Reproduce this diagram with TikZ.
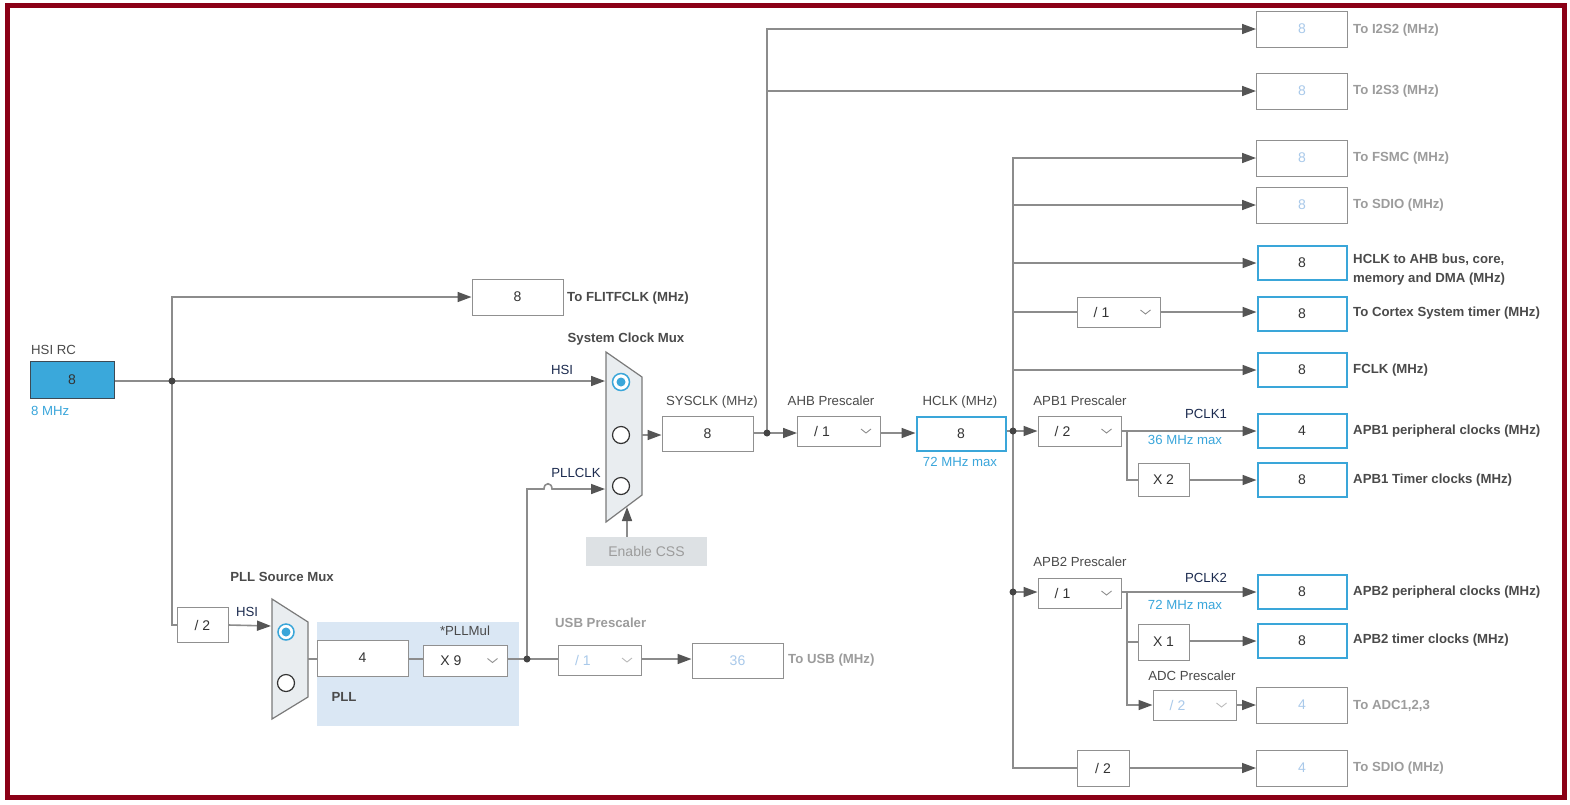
\documentclass[tikz,border=0pt]{standalone}
\usepackage{fontspec}
\setmainfont{Liberation Sans}
\usetikzlibrary{arrows.meta,calc}
\definecolor{framered}{RGB}{139,0,22}
\definecolor{linegray}{HTML}{8C8C8C}
\definecolor{arrowgray}{HTML}{555555}
\definecolor{boxgray}{HTML}{909090}
\definecolor{bluebd}{HTML}{3AA6D9}
\definecolor{hsifill}{HTML}{3AA8DB}
\definecolor{hsibd}{HTML}{3C4A55}
\definecolor{txt}{HTML}{333333}
\definecolor{lbl}{HTML}{4A4A4A}
\definecolor{dis}{HTML}{9C9C9C}
\definecolor{disval}{HTML}{A9C9EA}
\definecolor{navy}{HTML}{1C2B4F}
\definecolor{bluet}{HTML}{3AA6DB}
\definecolor{pllfill}{HTML}{DAE7F4}
\definecolor{muxfill}{HTML}{E9EDF0}
\definecolor{muxbd}{HTML}{7A7A7A}
\definecolor{cssfill}{HTML}{DDE1E4}
\definecolor{dotgray}{HTML}{444444}
\newcommand\ddchev[2]{\draw[draw=#2, line width=0.9pt] ($(#1.east)+(-20,-2)$) -- ++(5,4) -- ++(5,-4);}
\begin{document}
\begin{tikzpicture}[x=1pt,y=-1pt,
  font=\fontsize{13.2}{15}\selectfont,
  box/.style={draw=boxgray, fill=white, line width=1pt, inner sep=0pt, minimum width=91pt, minimum height=36pt, text=txt, font=\fontsize{14}{16}\selectfont},
  bbox/.style={box, draw=bluebd, line width=2pt},
  dbox/.style={box, text=disval},
  ddbox/.style={box, minimum width=83pt, minimum height=30pt},
  conn/.style={draw=linegray, line width=1.6pt},
  arr/.style={conn, -{Triangle[length=14pt,width=10pt,color=arrowgray]}},
  jdot/.style={circle, fill=dotgray, inner sep=0pt, minimum size=7pt},
  lab/.style={font=\fontsize{13.2}{15}\selectfont\bfseries, text=lbl, anchor=west, inner sep=0pt},
  dlab/.style={lab, text=dis},
  plain/.style={text=lbl, inner sep=0pt},
  sig/.style={text=navy, inner sep=0pt},
  mux/.style={fill=muxfill, draw=muxbd, line width=1.2pt},
  radioon/.style={draw=bluebd, line width=1.5pt, fill=white},
  radiooff/.style={draw=txt, line width=1.2pt, fill=white}
]
\useasboundingbox (0,0) rectangle (1570,804);
\fill[white] (0,0) rectangle (1570,804);
\draw[line width=5pt, framered] (7.5,5.5) rectangle (1564.5,797.5);

% PLL area
\fill[pllfill] (317,622) rectangle (519,726);

% muxes
\draw[mux] (272,599) -- (308,622) -- (308,697) -- (272,719) -- cycle;
\draw[radioon] (286,632) circle[radius=8pt];
\fill[bluebd] (286,632) circle[radius=4.5pt];
\draw[radiooff] (286,683) circle[radius=8.5pt];

\draw[mux] (606,352) -- (642,377) -- (642,495) -- (606,522) -- cycle;
\draw[radioon] (621,382) circle[radius=8.5pt];
\fill[bluebd] (621,382) circle[radius=4.5pt];
\draw[radiooff] (621,435) circle[radius=8.5pt];
\draw[radiooff] (621,486) circle[radius=8.5pt];

\coordinate (pmin) at (271,626);
\coordinate (pmout) at (308,659);
\coordinate (smin1) at (605,381);
\coordinate (smin3) at (605,489);
\coordinate (smout) at (642,435);
\coordinate (smbot) at (627,507);

% junctions
\coordinate (j1) at (172,381);
\coordinate (j2) at (527,659);
\coordinate (j3) at (767,433);
\coordinate (j4) at (1013,431);
\coordinate (j5) at (1013,592);
\coordinate (b1) at (1127,431);
\coordinate (b2) at (1127,593);

% ---------- left part
\node[box, fill=hsifill, draw=hsibd, minimum width=84pt, minimum height=37pt] (hsi) at (72,380) {8};
\node[plain, anchor=west] (hsilab) at (31,350) {HSI RC};
\node[plain, anchor=west, text=bluet] (hsimhz) at (31,411) {8 MHz};

\node[box] (fl) at (517.5,297) {8};
\node[lab] (fllab) at (567,298) {To FLITFCLK (MHz)};

\node[box, minimum width=51pt, minimum height=35pt] (div2) at (202.5,625) {/ 2};
\node[sig] (hsi2) at (247,612) {HSI};
\node[lab, anchor=center] (pllmuxlab) at (282,577) {PLL Source Mux};

\node[box] (pll4) at (362.5,658) {4};
\node[box, minimum width=84pt, minimum height=31pt] (mul) at (465,660.5) {X 9\hspace*{28pt}};
\ddchev{mul}{boxgray}
\node[plain] (mullab) at (465,631) {*PLLMul};
\node[lab, anchor=center] (plllab) at (344,697) {PLL};

\node[ddbox, text=disval] (usbp) at (600,660) {/ 1\hspace*{34pt}};
\ddchev{usbp}{boxgray!60}
\node[dlab] (usbplab) at (555,623) {USB Prescaler};
\node[dbox, minimum height=35pt] (usb) at (737.5,660.5) {36};
\node[dlab] (usblab) at (788,660) {To USB (MHz)};

% ---------- system clock mux
\node[lab, anchor=center] (smuxlab) at (626,339) {System Clock Mux};
\node[sig] (hsi1) at (562,370) {HSI};
\node[sig] (pllclk) at (576,473) {PLLCLK};
\node[fill=cssfill, text=dis, minimum width=121pt, minimum height=29pt, inner sep=0pt, font=\fontsize{14}{16}\selectfont] (css) at (646.5,551.5) {Enable CSS};

\node[box, minimum height=35pt] (sys) at (707.5,433.5) {8};
\node[plain] (syslab) at (712,402) {SYSCLK (MHz)};

\node[ddbox] (ahb) at (839,431) {/ 1\hspace*{34pt}};
\ddchev{ahb}{boxgray}
\node[plain] (ahblab) at (831,401) {AHB Prescaler};

\node[bbox, minimum width=89pt, minimum height=34pt] (hclk) at (961,433.5) {8};
\node[plain] (hclklab) at (960,402) {HCLK (MHz)};
\node[inner sep=0pt, text=bluet] (hclkmax) at (960,462) {72 MHz max};

% ---------- right column
\node[dbox] (i2s2) at (1302,29) {8};
\node[dlab] at (1353,30) {To I2S2 (MHz)};
\node[dbox] (i2s3) at (1302,91) {8};
\node[dlab] at (1353,91) {To I2S3 (MHz)};
\node[dbox] (fsmc) at (1302,158) {8};
\node[dlab] at (1353,158) {To FSMC (MHz)};
\node[dbox] (sdio1) at (1302,205) {8};
\node[dlab] at (1353,205) {To SDIO (MHz)};

\node[bbox, minimum width=89pt, minimum height=34pt] (hahb) at (1302,263) {8};
\begin{scope}
\clip (1345,240) rectangle (1560,284);
\node[lab, align=left, font=\fontsize{13.2}{19}\selectfont\bfseries] at (1353,270) {HCLK to AHB bus, core,\\memory and DMA (MHz)};
\end{scope}

\node[ddbox] (div1c) at (1118.5,312) {/ 1\hspace*{34pt}};
\ddchev{div1c}{boxgray}
\node[bbox, minimum width=89pt, minimum height=34pt] (cortex) at (1302,314) {8};
\node[lab] at (1353,313) {To Cortex System timer (MHz)};

\node[bbox, minimum width=89pt, minimum height=34pt] (fclk) at (1302,370) {8};
\node[lab] at (1353,370) {FCLK (MHz)};

\node[ddbox] (apb1) at (1079.5,431) {/ 2\hspace*{34pt}};
\ddchev{apb1}{boxgray}
\node[plain] at (1080,401) {APB1 Prescaler};
\node[sig] at (1206,414) {PCLK1};
\node[inner sep=0pt, text=bluet] at (1185,440) {36 MHz max};
\node[bbox, minimum width=89pt, minimum height=34pt] (apb1p) at (1302,431) {4};
\node[lab] at (1353,431) {APB1 peripheral clocks (MHz)};
\node[box, minimum width=51pt, minimum height=33pt] (x2) at (1163.5,480) {X 2};
\node[bbox, minimum width=89pt, minimum height=34pt] (apb1t) at (1302,480) {8};
\node[lab] at (1353,480) {APB1 Timer clocks (MHz)};

\node[ddbox] (apb2) at (1079.5,593) {/ 1\hspace*{34pt}};
\ddchev{apb2}{boxgray}
\node[plain] at (1080,562) {APB2 Prescaler};
\node[sig] at (1206,578) {PCLK2};
\node[inner sep=0pt, text=bluet] at (1185,605) {72 MHz max};
\node[bbox, minimum width=89pt, minimum height=34pt] (apb2p) at (1302,592) {8};
\node[lab] at (1353,592) {APB2 peripheral clocks (MHz)};
\node[box, minimum width=51pt, minimum height=36pt] (x1) at (1163.5,642) {X 1};
\node[bbox, minimum width=89pt, minimum height=34pt] (apb2t) at (1302,641) {8};
\node[lab] at (1353,640) {APB2 timer clocks (MHz)};

\node[plain] at (1192,676) {ADC Prescaler};
\node[ddbox, text=disval] (adcp) at (1194.5,705) {/ 2\hspace*{34pt}};
\ddchev{adcp}{boxgray!60}
\node[dbox] (adc) at (1302,705) {4};
\node[dlab] at (1353,706) {To ADC1,2,3};

\node[box, minimum width=52pt, minimum height=36pt] (div2s) at (1103,768) {/ 2};
\node[dbox] (sdio2) at (1302,768) {4};
\node[dlab] at (1353,768) {To SDIO (MHz)};

% ---------- connectors
\draw[conn] (hsi.east |- j1) -- (j1);
\draw[arr] (j1) -- (smin1);
\draw[arr] (j1) |- (fl.west);
\draw[conn] (j1) |- (div2.west);
\draw[arr] (div2.east) -- (pmin);
\draw[conn] (pmout) -- (pll4.west |- pmout);
\draw[conn] (pll4.east |- pmout) -- (mul.west |- pmout);
\draw[conn] (mul.east |- j2) -- (j2);
\draw[conn] (j2) -- (usbp.west |- j2);
\draw[arr] (usbp.east |- j2) -- (usb.west |- j2);
\draw[arr] (j2) -- (527,489) -- (544,489) .. controls (544,482) and (552,482) .. (552,489) -- (smin3);
\draw[arr] (css.north -| smbot) -- (smbot);
\draw[arr] (smout) -- (sys.west |- smout);
\draw[conn] (sys.east |- j3) -- (j3);
\draw[arr] (j3) -- (ahb.west |- j3);
\draw[arr] (j3) |- (i2s2.west);
\draw[arr] (j3) |- (i2s3.west);
\draw[arr] (ahb.east |- j3) -- (hclk.west |- j3);
\draw[conn] (hclk.east |- j4) -- (j4);
\draw[arr] (j4) |- (fsmc.west);
\draw[arr] (j4) |- (sdio1.west);
\draw[arr] (j4) |- (hahb.west);
\draw[conn] (j4) |- (div1c.west);
\draw[arr] (div1c.east) -- (cortex.west |- div1c);
\draw[arr] (j4) |- (fclk.west);
\draw[arr] (j4) -- (apb1.west);
\draw[arr] (apb1.east) -- (apb1p.west |- apb1);
\draw[conn] (b1) |- (x2.west);
\draw[arr] (x2.east) -- (apb1t.west);
\draw[conn] (j4) -- (j5);
\draw[arr] (j5) -- (apb2.west |- j5);
\draw[arr] (apb2.east |- j5) -- (apb2p.west);
\draw[conn] (b2) |- (x1.west);
\draw[arr] (x1.east |- apb2t) -- (apb2t.west);
\draw[arr] (b2) |- (adcp.west);
\draw[arr] (adcp.east) -- (adc.west);
\draw[conn] (j5) |- (div2s.west);
\draw[arr] (div2s.east) -- (sdio2.west);

% junction dots
\foreach \j in {j1,j2,j3,j4,j5} \node[jdot] at (\j) {};
\end{tikzpicture}
\end{document}
